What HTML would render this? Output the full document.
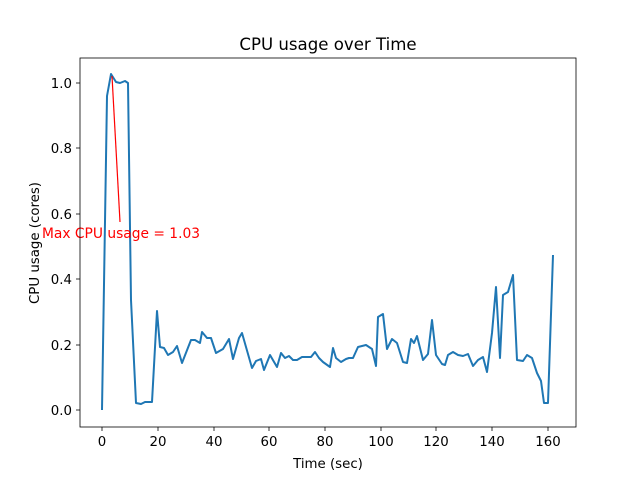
<!DOCTYPE html>
<html><head><meta charset="utf-8"><style>body{margin:0;background:#fff}</style></head><body>
<svg width="640" height="480" xmlns="http://www.w3.org/2000/svg" font-family="DejaVu Sans, Liberation Sans, sans-serif">
<rect width="640" height="480" fill="#fff"/>
<text x="328" y="50" font-size="16.6" text-anchor="middle">CPU usage over Time</text>
<g stroke="#000" stroke-width="0.8">
<line x1="102" y1="427" x2="102" y2="431"/><line x1="158" y1="427" x2="158" y2="431"/><line x1="214" y1="427" x2="214" y2="431"/><line x1="269" y1="427" x2="269" y2="431"/><line x1="325" y1="427" x2="325" y2="431"/><line x1="381" y1="427" x2="381" y2="431"/><line x1="436" y1="427" x2="436" y2="431"/><line x1="492" y1="427" x2="492" y2="431"/><line x1="548" y1="427" x2="548" y2="431"/>
<line x1="76" y1="410" x2="80" y2="410"/><line x1="76" y1="345" x2="80" y2="345"/><line x1="76" y1="279" x2="80" y2="279"/><line x1="76" y1="214" x2="80" y2="214"/><line x1="76" y1="148" x2="80" y2="148"/><line x1="76" y1="83" x2="80" y2="83"/>
</g>
<g font-size="13.33" text-anchor="middle">
<text x="102" y="446">0</text><text x="158" y="446">20</text><text x="214" y="446">40</text><text x="269" y="446">60</text><text x="325" y="446">80</text><text x="381" y="446">100</text><text x="436" y="446">120</text><text x="492" y="446">140</text><text x="548" y="446">160</text>
</g>
<g font-size="13.33" text-anchor="end">
<text x="72" y="415">0.0</text><text x="72" y="350">0.2</text><text x="72" y="284">0.4</text><text x="72" y="219">0.6</text><text x="72" y="153">0.8</text><text x="72" y="88">1.0</text>
</g>
<text x="328" y="468" font-size="13.33" text-anchor="middle">Time (sec)</text>
<text transform="translate(39,243) rotate(-90)" font-size="13.33" text-anchor="middle">CPU usage (cores)</text>
<polyline fill="none" stroke="#1f77b4" stroke-width="2" stroke-linejoin="round" points="102,410 107,96 111,74 116,82 120,83 125,81 128,83 131,300 136,403 141,404 145,402 148,402 152,402 157,311 160,347 164,348 168,355 173,352 177,346 182,363 191,340 195,340 200,343 202,332 207,338 211,338 216,353 223,349 229,339 233,359 239,338 242,333 252,368 256,361 261,359 264,370 270,355 277,367 281,353 285,358 289,356 293,360 297,360 302,357 306,357 311,357 315,352 319,358 323,362 330,367 333,348 336,358 341,362 346,359 349,358 353,358 358,347 366,345 372,349 376,366 378,317 383,314 387,349 392,339 397,343 403,362 407,363 411,339 414,343 417,336 423,360 428,354 432,320 436,355 442,364 445,365 448,355 453,352 458,355 463,356 468,354 473,366 478,360 483,357 487,372 492,333 496,287 500,358 503,295 508,292 513,275 517,360 523,361 527,355 532,358 537,373 541,381 544,403 548,403 553,255"/>
<line x1="112" y1="76" x2="120" y2="222" stroke="red" stroke-width="1.2"/>
<text x="42" y="238" font-size="13.8" fill="red">Max CPU usage = 1.03</text>
<rect x="80" y="58" width="496" height="369" fill="none" stroke="#000" stroke-width="0.8"/>
</svg>
</body></html>
